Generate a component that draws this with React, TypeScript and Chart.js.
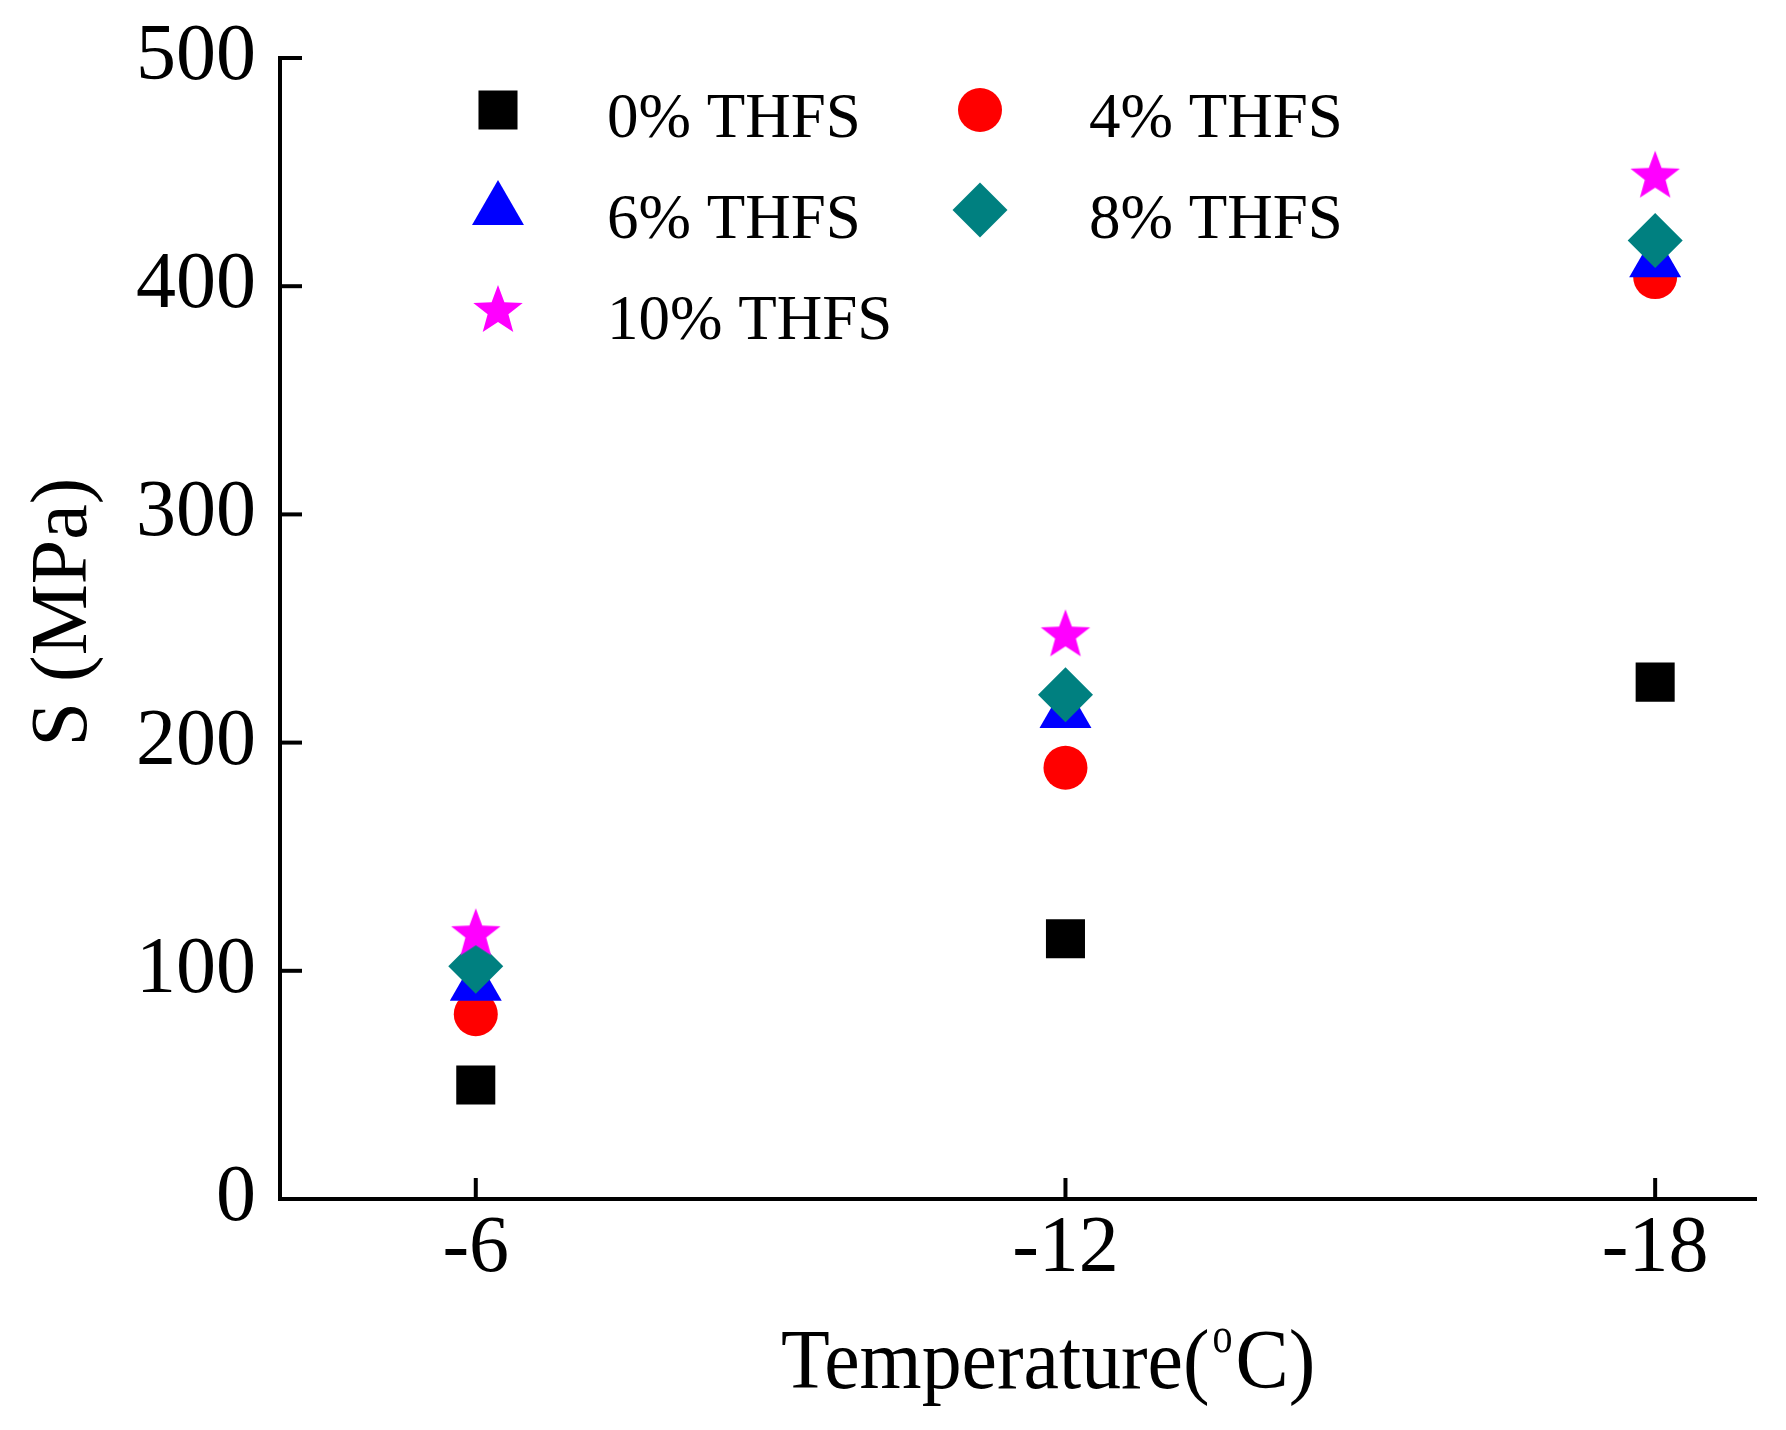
import React, { useEffect, useRef } from "react";
import { Chart, registerables } from "chart.js";
import { drawPoint } from "chart.js/helpers";

Chart.register(...registerables);

// category positions on the x axis and their labels
const xPositions = [0, 1, 2];
const xLabels = ["-6", "-12", "-18"];
const yTicks = [0, 100, 200, 300, 400, 500];

const seriesNames = ["0% THFS", "4% THFS", "6% THFS", "8% THFS", "10% THFS"];
const thfs0 = [50, 114, 226.5];
const thfs4 = [81, 189, 404];
const thfs6 = [93.5, 213, 410.5];
const thfs8 = [102, 221, 420];
const thfs10 = [116, 247, 448];

const FONT = "'Liberation Serif', 'Times New Roman', serif";

function makeStar(color: string, R: number, ratio: number) {
  const c = document.createElement("canvas");
  const s = Math.ceil(R * 2) + 4;
  c.width = s;
  c.height = s;
  const g = c.getContext("2d")!;
  g.fillStyle = color;
  g.beginPath();
  for (let i = 0; i < 10; i++) {
    const r = i % 2 === 0 ? R : R * ratio;
    const a = -Math.PI / 2 + (i * Math.PI) / 5;
    g.lineTo(s / 2 + r * Math.cos(a), s / 2 + r * Math.sin(a));
  }
  g.closePath();
  g.fill();
  return c;
}

// inward tick marks (Origin style)
const innerTicks = {
  id: "innerTicks",
  afterDraw(chart: any) {
    const { ctx, scales, chartArea } = chart;
    ctx.save();
    ctx.strokeStyle = "#000";
    ctx.lineWidth = 4;
    scales.x.ticks.forEach((t: any) => {
      const px = scales.x.getPixelForValue(t.value);
      ctx.beginPath();
      ctx.moveTo(px, chartArea.bottom);
      ctx.lineTo(px, chartArea.bottom - 21);
      ctx.stroke();
    });
    scales.y.ticks.forEach((t: any) => {
      const py = scales.y.getPixelForValue(t.value);
      ctx.beginPath();
      ctx.moveTo(chartArea.left, py);
      ctx.lineTo(chartArea.left + 22, py);
      ctx.stroke();
    });
    ctx.restore();
  },
};

// two-column legend in the upper left of the plot
const gridLegend = {
  id: "gridLegend",
  afterDraw(chart: any) {
    const { ctx } = chart;
    const markerX = [498, 980];
    const textX = [607, 1089];
    const markerY = [110, 210, 311];
    const textY = [137, 238, 339];
    ctx.save();
    chart.data.datasets.forEach((ds: any, i: number) => {
      const col = i % 2;
      const row = Math.floor(i / 2);
      ctx.fillStyle = ds.backgroundColor;
      drawPoint(
        ctx,
        { pointStyle: ds.pointStyle, radius: ds.pointRadius, rotation: 0, borderWidth: 0 } as any,
        markerX[col],
        markerY[row]
      );
      ctx.fillStyle = "#000";
      ctx.font = `63px ${FONT}`;
      ctx.textAlign = "left";
      ctx.textBaseline = "alphabetic";
      ctx.fillText(ds.label, textX[col], textY[row]);
    });
    ctx.restore();
  },
};

// axis titles, x title has a superscript "o"
const axisTitles = {
  id: "axisTitles",
  afterDraw(chart: any) {
    const { ctx } = chart;
    ctx.save();
    ctx.fillStyle = "#000";
    ctx.textAlign = "left";
    ctx.textBaseline = "alphabetic";

    // x title
    const sx = 0.95;
    ctx.font = `84px ${FONT}`;
    let x = 781;
    const part1 = "Temperature(";
    ctx.save();
    ctx.translate(x, 1388);
    ctx.scale(sx, 1);
    ctx.fillText(part1, 0, 0);
    ctx.restore();
    x += ctx.measureText(part1).width * sx + 3;
    ctx.font = `50px ${FONT}`;
    ctx.save();
    ctx.translate(x, 1352);
    ctx.scale(0.8, 1);
    ctx.fillText("o", 0, 0);
    ctx.restore();
    x += ctx.measureText("o").width * 0.8 + 3;
    ctx.font = `84px ${FONT}`;
    ctx.save();
    ctx.translate(x, 1388);
    ctx.scale(sx, 1);
    ctx.fillText("C)", 0, 0);
    ctx.restore();

    // y title
    ctx.translate(86, 612);
    ctx.rotate(-Math.PI / 2);
    ctx.font = `80px ${FONT}`;
    ctx.textAlign = "center";
    ctx.fillText("S (MPa)", 0, 0);
    ctx.restore();
  },
};

const App = () => {
  const canvasRef = useRef<HTMLCanvasElement>(null);
  const chartRef = useRef<Chart | null>(null);

  useEffect(() => {
    if (!canvasRef.current) return;
    if (chartRef.current) chartRef.current.destroy();

    const toPoints = (vals: number[]) => vals.map((v, i) => ({ x: xPositions[i], y: v }));
    const star = makeStar("#FF00FF", 26, 0.42);

    const datasets = [
      { label: seriesNames[0], data: toPoints(thfs0), pointStyle: "rect", pointRadius: 27.6, backgroundColor: "#000000", order: 5 },
      { label: seriesNames[1], data: toPoints(thfs4), pointStyle: "circle", pointRadius: 22, backgroundColor: "#FF0000", order: 4 },
      { label: seriesNames[2], data: toPoints(thfs6), pointStyle: "triangle", pointRadius: 30, backgroundColor: "#0000FF", order: 3 },
      { label: seriesNames[3], data: toPoints(thfs8), pointStyle: "rectRot", pointRadius: 27.5, backgroundColor: "#008080", order: 2 },
      { label: seriesNames[4], data: toPoints(thfs10), pointStyle: star as any, pointRadius: 26, backgroundColor: "#FF00FF", order: 1 },
    ].map((d) => ({
      ...d,
      borderWidth: 0,
      pointBorderWidth: 0,
      pointBackgroundColor: d.backgroundColor,
      pointHoverRadius: d.pointRadius,
      showLine: false,
    }));

    chartRef.current = new Chart(canvasRef.current, {
      type: "scatter",
      data: { datasets: datasets as any },
      options: {
        animation: false,
        responsive: false,
        devicePixelRatio: 1,
        layout: { padding: { top: 58, right: 28, left: 0, bottom: 0 } },
        plugins: {
          legend: { display: false },
          tooltip: { enabled: false },
        },
        scales: {
          x: {
            type: "linear",
            min: -0.332,
            max: 2.171,
            afterBuildTicks: (scale: any) => {
              scale.ticks = xPositions.map((v) => ({ value: v }));
            },
            afterFit: (scale: any) => {
              scale.height = 231;
            },
            ticks: {
              callback: (v: any) => xLabels[xPositions.indexOf(Number(v))] ?? "",
              font: { family: FONT, size: 80 },
              color: "#000",
              padding: 3,
              maxRotation: 0,
              autoSkip: false,
            },
            grid: { display: false, drawTicks: false },
            border: { display: true, color: "#000", width: 4 },
          },
          y: {
            type: "linear",
            min: 0,
            max: 500,
            afterBuildTicks: (scale: any) => {
              scale.ticks = yTicks.map((v) => ({ value: v }));
            },
            afterFit: (scale: any) => {
              scale.width = 280;
            },
            ticks: {
              font: { family: FONT, size: 80, lineHeight: 0.4 },
              color: "#000",
              padding: 24,
            },
            grid: { display: false, drawTicks: false },
            border: { display: true, color: "#000", width: 4 },
          },
        },
      },
      plugins: [innerTicks, gridLegend, axisTitles],
    });

    return () => {
      if (chartRef.current) {
        chartRef.current.destroy();
        chartRef.current = null;
      }
    };
  }, []);

  return (
    <div style={{ position: "absolute", left: 0, top: 0, width: 1786, height: 1430, background: "#fff" }}>
      <canvas ref={canvasRef} width={1786} height={1430} />
    </div>
  );
};

export default App;
